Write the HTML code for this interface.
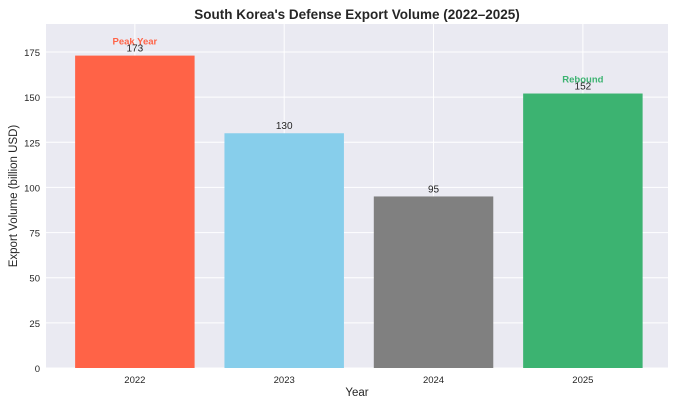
<!DOCTYPE html>
<html><head><meta charset="utf-8"><style>
body{margin:0;background:#fff;}
svg text{font-family:"Liberation Sans","DejaVu Sans",sans-serif;}
</style></head><body>
<svg id="chart" width="680" height="408" viewBox="0 0 680 408">
<rect x="0" y="0" width="680" height="408" fill="#ffffff"/>
<rect x="46" y="24" width="622" height="344" fill="#eaeaf2"/>
<g id="grid"></g><g id="bars"></g><g id="labels"></g>
<text x="357" y="19" text-anchor="middle" font-size="13.5" font-weight="bold" fill="#262626">South Korea's Defense Export Volume (2022–2025)</text>
<text x="357" y="396" text-anchor="middle" font-size="11.5" fill="#262626">Year</text>
<text transform="translate(17,196) rotate(-90)" text-anchor="middle" font-size="11.5" fill="#262626">Export Volume (billion USD)</text>
</svg>
<script>
const categories=["2022","2023","2024","2025"];
const values=[173,130,95,152];
const colors=["#ff6347","#87ceeb","#808080","#3cb371"];
const yTicks=[0,25,50,75,100,125,150,175];
const annotations=["Peak Year","","","Rebound"];
const annColors=["#ff6347","","","#3cb371"];
const L=46,R=668,T=24,B=368,yMax=190.5,xMin=-0.595,xMax=3.57;
const ns="http://www.w3.org/2000/svg";
const y=v=>B-(v/yMax)*(B-T);
const x=i=>L+(i-xMin)/(xMax-xMin)*(R-L);
const bw=0.8*(R-L)/(xMax-xMin);
function mk(t,a,p){const e=document.createElementNS(ns,t);for(const k in a)e.setAttribute(k,a[k]);p.appendChild(e);return e;}
const g=document.getElementById('grid'),bg=document.getElementById('bars'),lg=document.getElementById('labels');
yTicks.forEach(v=>{
 const l=mk('line',{x1:L,x2:R,y1:y(v),y2:y(v),stroke:'#fff','stroke-width':1},g);
 
 
 const t=mk('text',{x:L-6,y:y(v)+4,'text-anchor':'end','font-size':9.5,fill:'#262626'},g);
 t.textContent=v;
 
 
});
categories.forEach((c,i)=>{
 const l=mk('line',{x1:x(i),x2:x(i),y1:T,y2:B,stroke:'#fff','stroke-width':1},g);
 
 
 const r=mk('rect',{x:x(i)-bw/2,y:y(values[i]),width:bw,height:B-y(values[i]),fill:colors[i]},bg);
 
 
 const t=mk('text',{x:x(i),y:y(values[i])-4,'text-anchor':'middle','font-size':10,fill:'#262626'},lg);
 t.textContent=values[i];
 
 
 const xt=mk('text',{x:x(i),y:B+15,'text-anchor':'middle','font-size':9.5,fill:'#262626'},lg);
 xt.textContent=c;
 
 
 if(annotations[i]){
  const a=mk('text',{x:x(i),y:y(values[i])-11,'text-anchor':'middle','font-size':9.5,'font-weight':'bold',fill:annColors[i]},lg);
  a.textContent=annotations[i];
  
  
 }
});
</script>
</body></html>
